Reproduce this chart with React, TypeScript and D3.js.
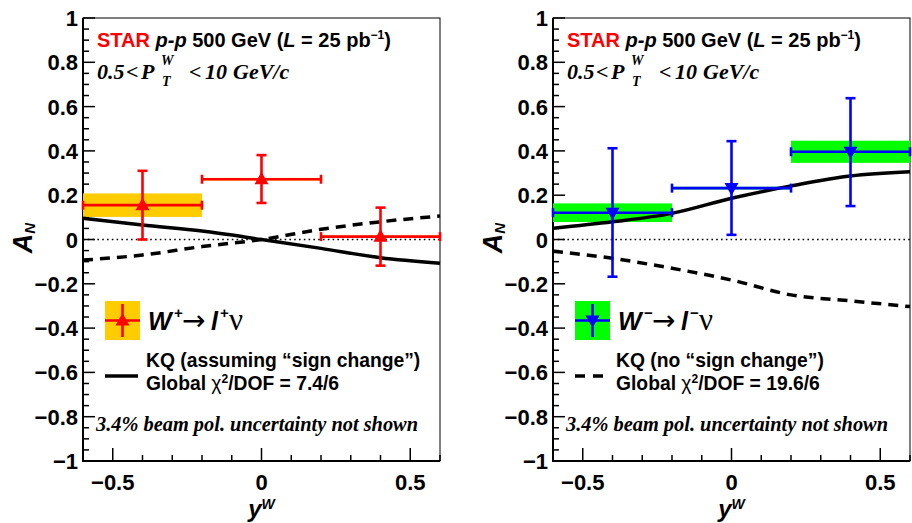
import React from "react";
import * as d3 from "d3";

// ---------- data ----------
const yTickValues = [-1, -0.8, -0.6, -0.4, -0.2, 0, 0.2, 0.4, 0.6, 0.8, 1];
const yTickLabels = ["−1", "−0.8", "−0.6", "−0.4", "−0.2", "0", "0.2", "0.4", "0.6", "0.8", "1"];
const xTickValues = [-0.5, 0, 0.5];
const xTickLabels = ["−0.5", "0", "0.5"];

const binCenters = [-0.4, 0, 0.4];
const binHalfWidths = [0.2, 0.2, 0.2];

const wPlusAN = [0.155, 0.272, 0.013];
const wPlusErrUp = [0.155, 0.109, 0.131];
const wPlusErrDown = [0.155, 0.107, 0.131];
const wPlusSys = [0.053, 0.006, 0.005];

const wMinusAN = [0.121, 0.232, 0.396];
const wMinusErrUp = [0.291, 0.212, 0.242];
const wMinusErrDown = [0.289, 0.211, 0.245];
const wMinusSys = [0.042, 0.006, 0.05];

const theoryRapidity = [-0.6, -0.4, -0.2, 0, 0.2, 0.4, 0.6];
const kqSignChangeWPlus = [0.096, 0.065, 0.038, 0.0, -0.04, -0.082, -0.107];
const kqNoSignChangeWPlus = [-0.093, -0.07, -0.032, 0.0, 0.046, 0.08, 0.106];
const kqSignChangeWMinus = [0.051, 0.08, 0.118, 0.186, 0.242, 0.287, 0.306];
const kqNoSignChangeWMinus = [-0.053, -0.085, -0.13, -0.183, -0.25, -0.277, -0.303];

// ---------- layout ----------
const W = 912;
const H = 523;
const TOP = 18;
const BOTTOM = 461;

const SANS = "'Liberation Sans', Arial, Helvetica, sans-serif";
const SERIF = "'Liberation Serif', 'Times New Roman', serif";

type PanelDef = {
  left: number;
  right: number;
  an: number[];
  errUp: number[];
  errDown: number[];
  sys: number[];
  color: string;
  boxColor: string;
  up: boolean;
  solid: number[];
  dashed: number[];
  sign: string;
  kqLabel: string;
  chi2: string;
  legendSolid: boolean;
};

const panels: PanelDef[] = [
  {
    left: 83, right: 440,
    an: wPlusAN, errUp: wPlusErrUp, errDown: wPlusErrDown, sys: wPlusSys,
    color: "#ff0000", boxColor: "#ffcc00", up: true,
    solid: kqSignChangeWPlus, dashed: kqNoSignChangeWPlus,
    sign: "+", kqLabel: "KQ (assuming “sign change”)", chi2: "7.4/6", legendSolid: true,
  },
  {
    left: 553, right: 910,
    an: wMinusAN, errUp: wMinusErrUp, errDown: wMinusErrDown, sys: wMinusSys,
    color: "#0000ff", boxColor: "#00ff00", up: false,
    solid: kqSignChangeWMinus, dashed: kqNoSignChangeWMinus,
    sign: "−", kqLabel: "KQ (no “sign change”)", chi2: "19.6/6", legendSolid: false,
  },
];

function triangle(cx: number, cy: number, up: boolean, s: number) {
  const h = s * 0.9;
  if (up) return `M${cx},${cy - h * 0.6} L${cx + s / 2},${cy + h * 0.4} L${cx - s / 2},${cy + h * 0.4} Z`;
  return `M${cx},${cy + h * 0.6} L${cx + s / 2},${cy - h * 0.4} L${cx - s / 2},${cy - h * 0.4} Z`;
}

function Panel({ p }: { p: PanelDef }) {
  const x = d3.scaleLinear().domain([-0.6, 0.6]).range([p.left, p.right]);
  const y = d3.scaleLinear().domain([-1, 1]).range([BOTTOM, TOP]);
  const off = p.left - 83;

  const line = d3
    .line<number>()
    .x((_, i) => x(theoryRapidity[i]))
    .y((d) => y(d))
    .curve(d3.curveMonotoneX);

  const yMinor = d3.range(-1, 1.0001, 0.05).map((v) => Math.round(v * 100) / 100);
  const xMinor = d3.range(-0.5, 0.6001, 0.1).map((v) => Math.round(v * 10) / 10);

  return (
    <g>
      {/* frame */}
      <rect x={p.left} y={TOP} width={p.right - p.left} height={BOTTOM - TOP} fill="none" stroke="#000" strokeWidth={1} />
      <line x1={p.left} x2={p.left} y1={TOP} y2={BOTTOM + 1} stroke="#000" strokeWidth={2} />
      <line x1={p.left - 1} x2={p.right} y1={BOTTOM} y2={BOTTOM} stroke="#000" strokeWidth={2} />

      {/* y ticks */}
      {yMinor.map((v, i) => {
        const major = Math.abs(v * 5 - Math.round(v * 5)) < 1e-6;
        return (
          <line key={"ym" + i} x1={p.left} x2={p.left + (major ? 12 : 6)} y1={y(v)} y2={y(v)} stroke="#000" strokeWidth={1.5} />
        );
      })}
      {yTickValues.map((v, i) => (
        <text key={"yl" + i} x={p.left - 5} y={y(v) + 8} textAnchor="end" fontFamily={SANS} fontWeight="bold" fontSize={22}>
          {yTickLabels[i]}
        </text>
      ))}

      {/* x ticks */}
      {xMinor.map((v, i) => {
        const major = Math.abs(v * 2 - Math.round(v * 2)) < 1e-6;
        return (
          <line key={"xm" + i} x1={x(v)} x2={x(v)} y1={BOTTOM} y2={BOTTOM - (major ? 13 : 6)} stroke="#000" strokeWidth={1.5} />
        );
      })}
      {xTickValues.map((v, i) => (
        <text key={"xl" + i} x={x(v)} y={490} textAnchor="middle" fontFamily={SANS} fontWeight="bold" fontSize={22}>
          {xTickLabels[i]}
        </text>
      ))}

      {/* axis titles */}
      <text x={x(0)} y={517} textAnchor="middle" fontFamily={SANS} fontWeight="bold" fontStyle="italic" fontSize={24}>
        y<tspan fontSize={14} dy={-8}>W</tspan>
      </text>
      <text transform={`translate(${32 + off},238) rotate(-90)`} textAnchor="middle" fontFamily={SANS} fontWeight="bold" fontStyle="italic" fontSize={27}>
        A<tspan fontSize={15} dy={3}>N</tspan>
      </text>

      {/* zero line */}
      <line x1={p.left} x2={p.right} y1={y(0)} y2={y(0)} stroke="#000" strokeWidth={1.6} strokeDasharray="1.6 3.2" />

      {/* systematic boxes */}
      {binCenters.map((c, i) => (
        <rect key={"sys" + i} x={x(c - binHalfWidths[i])} width={x(c + binHalfWidths[i]) - x(c - binHalfWidths[i])}
          y={y(p.an[i] + p.sys[i])} height={y(p.an[i] - p.sys[i]) - y(p.an[i] + p.sys[i])} fill={p.boxColor} />
      ))}

      {/* theory curves */}
      <path d={line(p.solid) || ""} fill="none" stroke="#000" strokeWidth={3.5} />
      <path d={line(p.dashed) || ""} fill="none" stroke="#000" strokeWidth={3.5} strokeDasharray="10 7" />

      {/* data points */}
      {binCenters.map((c, i) => {
        const cx = x(c);
        const cy = y(p.an[i]);
        const x0 = x(c - binHalfWidths[i]);
        const x1 = x(c + binHalfWidths[i]);
        const yT = y(p.an[i] + p.errUp[i]);
        const yB = y(p.an[i] - p.errDown[i]);
        return (
          <g key={"pt" + i} stroke={p.color} strokeWidth={2.6}>
            <line x1={x0} x2={x1} y1={cy} y2={cy} />
            <line x1={x0} x2={x0} y1={cy - 4.5} y2={cy + 4.5} />
            <line x1={x1} x2={x1} y1={cy - 4.5} y2={cy + 4.5} />
            <line x1={cx} x2={cx} y1={yT} y2={yB} />
            <line x1={cx - 5} x2={cx + 5} y1={yT} y2={yT} />
            <line x1={cx - 5} x2={cx + 5} y1={yB} y2={yB} />
            <path d={triangle(cx, cy, p.up, 14)} fill={p.color} stroke="none" />
          </g>
        );
      })}

      {/* header text */}
      <text x={97 + off} y={47} fontFamily={SANS} fontWeight="bold" fontSize={20}>
        <tspan fill="#ff0000">STAR</tspan> <tspan fontStyle="italic">p-p</tspan> 500 GeV (<tspan fontStyle="italic">L</tspan> = 25 pb<tspan dy={-8} fontSize={12}>−1</tspan><tspan dy={8}>)</tspan>
      </text>
      <text y={79} fontFamily={SERIF} fontWeight="bold" fontStyle="italic" fontSize={22}>
        <tspan x={97 + off}>0.5</tspan>
        <tspan x={126 + off}>&lt;</tspan>
        <tspan x={141 + off}>P</tspan>
        <tspan x={161 + off} y={65} fontSize={14}>W</tspan>
        <tspan x={162 + off} y={86} fontSize={14}>T</tspan>
        <tspan x={189 + off} y={79}>&lt;</tspan>
        <tspan x={205 + off}>10</tspan>
        <tspan x={233 + off}>GeV/c</tspan>
      </text>

      {/* legend: data */}
      <rect x={105 + off} y={301} width={35} height={39} fill={p.boxColor} />
      <g stroke={p.color} strokeWidth={2.6}>
        <line x1={105 + off} x2={140 + off} y1={320.5} y2={320.5} />
        <line x1={122.5 + off} x2={122.5 + off} y1={304} y2={337} />
      </g>
      <path d={triangle(122.5 + off, 320.5, p.up, 14)} fill={p.color} />
      <text y={330} fontFamily={SANS} fontSize={25}>
        <tspan x={148 + off} fontWeight="bold" fontStyle="italic">W</tspan>
        <tspan x={174 + off} y={318} fontSize={15} fontWeight="bold">{p.sign}</tspan>
        <tspan x={182 + off} y={330} fontFamily="'DejaVu Sans', sans-serif" fontSize={28}>→</tspan>
        <tspan x={211 + off} fontWeight="bold" fontStyle="italic">l</tspan>
        <tspan x={220 + off} y={318} fontSize={15} fontWeight="bold">{p.sign}</tspan>
        <tspan x={229 + off} y={330} fontFamily={SERIF} fontSize={31}>ν</tspan>
      </text>

      {/* legend: theory */}
      {p.legendSolid ? (
        <line x1={105 + off} x2={138 + off} y1={376} y2={376} stroke="#000" strokeWidth={3.5} />
      ) : (
        <line x1={105 + off} x2={133 + off} y1={376} y2={376} stroke="#000" strokeWidth={3.5} strokeDasharray="10 8" />
      )}
      <text x={146 + off} y={367} fontFamily={SANS} fontWeight="bold" fontSize={19.3}>{p.kqLabel}</text>
      <text x={146 + off} y={390} fontFamily={SANS} fontWeight="bold" fontSize={19.3}>
        Global <tspan fontWeight="normal">χ</tspan><tspan dy={-7} fontSize={12}>2</tspan><tspan dy={7}>/DOF = {p.chi2}</tspan>
      </text>

      {/* note */}
      <text x={96 + off} y={431} fontFamily={SERIF} fontWeight="bold" fontStyle="italic" fontSize={20} textLength={322} lengthAdjust="spacingAndGlyphs">
        3.4% beam pol. uncertainty not shown
      </text>
    </g>
  );
}

export default function App() {
  return (
    <svg width={W} height={H} viewBox={`0 0 ${W} ${H}`} style={{ position: "absolute", left: 0, top: 0, background: "#fff" }}>
      <rect width={W} height={H} fill="#fff" />
      {panels.map((p, i) => (
        <Panel key={i} p={p} />
      ))}
    </svg>
  );
}
